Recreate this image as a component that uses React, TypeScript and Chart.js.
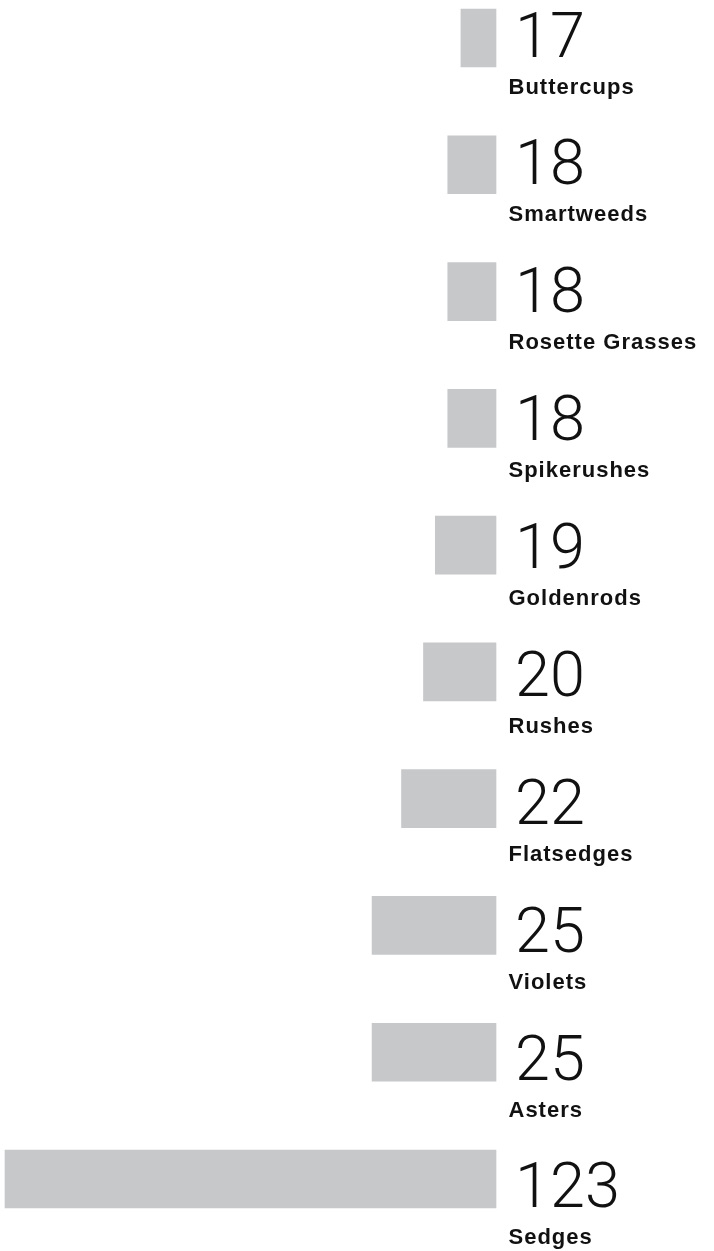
import React, { useEffect, useRef } from "react";
import { Chart, registerables } from "chart.js";

Chart.register(...registerables);

const categories: string[] = [
  "Buttercups",
  "Smartweeds",
  "Rosette Grasses",
  "Spikerushes",
  "Goldenrods",
  "Rushes",
  "Flatsedges",
  "Violets",
  "Asters",
  "Sedges",
];
const speciesCounts: number[] = [17, 18, 18, 18, 19, 20, 22, 25, 25, 123];

const BAR_COLOR = "#c7c8ca";

const labelPlugin = {
  id: "sideLabels",
  afterDatasetsDraw(chart: any) {
    const { ctx, chartArea } = chart;
    const meta = chart.getDatasetMeta(0);
    ctx.save();
    meta.data.forEach((bar: any, i: number) => {
      const x = chartArea.right;
      const base = bar.y + 18.5 + i * 1.1;
      ctx.fillStyle = "#111111";
      ctx.textAlign = "left";
      ctx.textBaseline = "alphabetic";
      ctx.font = "300 63px Roboto, 'Open Sans', sans-serif";
      ctx.fillText(String(speciesCounts[i]), x + 19, base);
      ctx.font = "bold 22px 'Liberation Sans', Arial, sans-serif";
      (ctx as any).letterSpacing = "1px";
      ctx.fillText(categories[i], x + 12.5, base + 37);
      (ctx as any).letterSpacing = "0px";
    });
    ctx.restore();
  },
};

export default function App() {
  const canvasRef = useRef<HTMLCanvasElement | null>(null);

  useEffect(() => {
    if (!canvasRef.current) return;
    const chart = new Chart(canvasRef.current, {
      type: "bar",
      data: {
        labels: categories,
        datasets: [
          {
            data: speciesCounts,
            backgroundColor: BAR_COLOR,
            borderWidth: 0,
            barThickness: 58,
            clip: false as any,
          },
        ],
      },
      options: {
        indexAxis: "y",
        animation: false,
        responsive: true,
        maintainAspectRatio: false,
        layout: { padding: { left: 5, right: 218, top: 38, bottom: 72 } },
        plugins: {
          legend: { display: false },
          tooltip: { enabled: false },
          title: { display: false },
        },
        scales: {
          x: {
            type: "logarithmic",
            reverse: true,
            min: 14.6,
            max: 123,
            display: false,
            grid: { display: false },
          },
          y: {
            type: "category",
            offset: false,
            display: false,
            grid: { display: false },
          },
        },
      },
      plugins: [labelPlugin],
    });
    return () => chart.destroy();
  }, []);

  return (
    <div style={{ position: "absolute", left: 0, top: 0, width: 714, height: 1251, background: "#ffffff" }}>
      <canvas ref={canvasRef} />
    </div>
  );
}
